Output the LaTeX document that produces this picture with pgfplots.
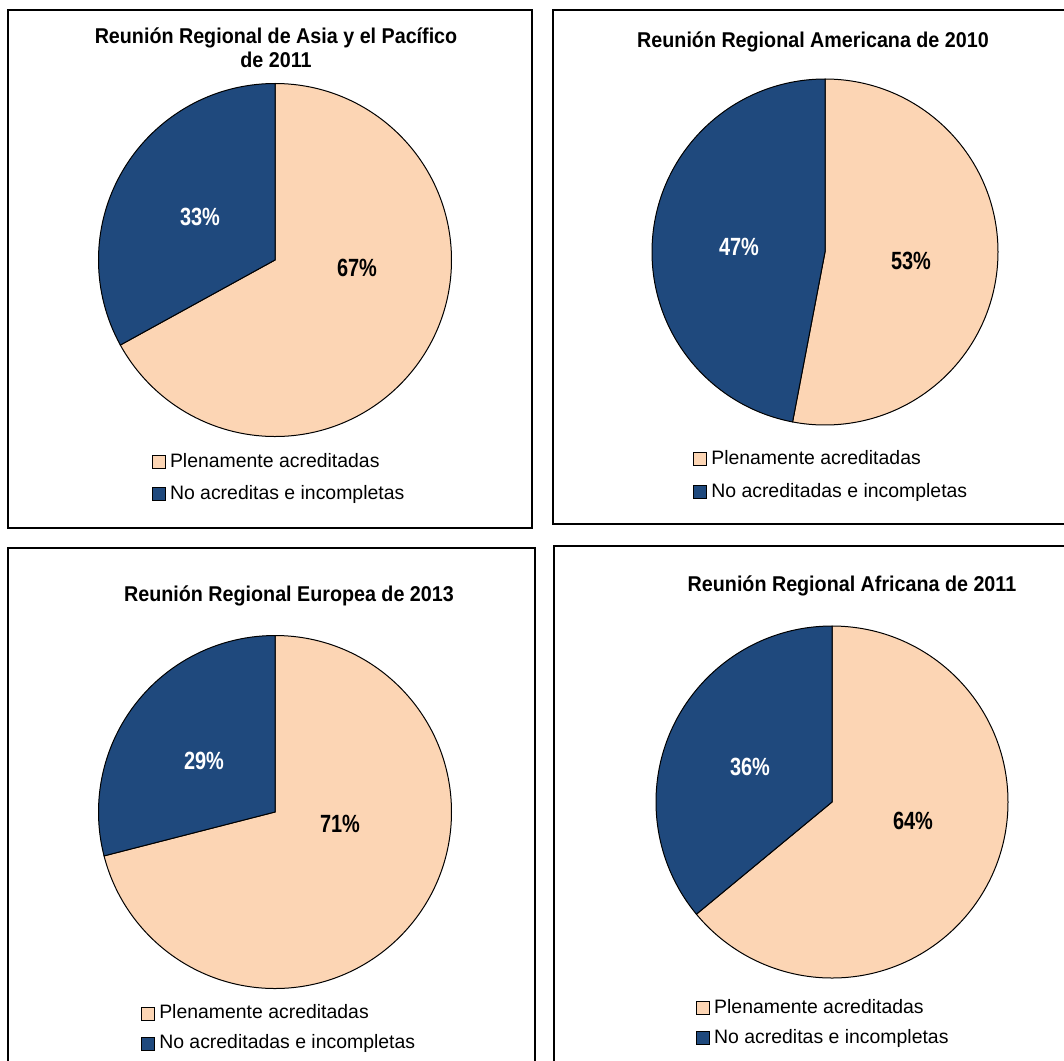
\documentclass[border=0pt]{standalone}
\usepackage{pgfplots}
\pgfplotsset{compat=1.18}
\usepackage{pgfplotstable}
\usepackage{fontspec}
\setmainfont{Liberation Sans}
\newfontfamily\lblfamily[FakeStretch=0.8]{Liberation Sans}
\newfontfamily\ttlfamily[FakeStretch=0.92]{Liberation Sans}
\definecolor{lightpie}{RGB}{252,213,180}
\definecolor{darkpie}{RGB}{31,73,125}

\pgfplotstableread{
id plena noacr
1 67 33
2 53 47
3 71 29
4 64 36
}\piedata

\newcommand\tfont{\ttlfamily\fontsize{21.5}{24}\selectfont\bfseries}
\newcommand\lfont{\lblfamily\fontsize{25}{28}\selectfont\bfseries}

\tikzset{slice/.style={draw=black, line width=1bp}}
\pgfplotsset{
  panel/.style={x=1bp, y=1bp, scale only axis, clip=false,
    xtick=\empty, ytick=\empty,
    axis line style={line width=1.2bp, black},
    anchor=south west,
    legend image code/.code={\draw[draw=black,line width=0.8bp,##1] (0bp,-6.5bp) rectangle (13bp,6.5bp);},
    legend style={draw=none, fill=none, inner sep=0pt, column sep=4.5bp,
      anchor=north west, font=\fontsize{19.5}{22}\selectfont,
      nodes={inner sep=0pt, text height=14.5bp, text depth=4.5bp}},
    legend cell align=left},
}

\begin{document}
\begin{tikzpicture}
\useasboundingbox (0,0) rectangle (1064bp,-1061bp);
% values and angles
\pgfplotstablegetelem{0}{plena}\of\piedata \edef\pA{\pgfplotsretval}
\pgfplotstablegetelem{0}{noacr}\of\piedata \edef\qA{\pgfplotsretval}
\pgfplotstablegetelem{1}{plena}\of\piedata \edef\pB{\pgfplotsretval}
\pgfplotstablegetelem{1}{noacr}\of\piedata \edef\qB{\pgfplotsretval}
\pgfplotstablegetelem{2}{plena}\of\piedata \edef\pC{\pgfplotsretval}
\pgfplotstablegetelem{2}{noacr}\of\piedata \edef\qC{\pgfplotsretval}
\pgfplotstablegetelem{3}{plena}\of\piedata \edef\pD{\pgfplotsretval}
\pgfplotstablegetelem{3}{noacr}\of\piedata \edef\qD{\pgfplotsretval}
\pgfmathsetmacro\aA{90-3.6*\pA}\pgfmathsetmacro\bA{90+3.6*\qA}
\pgfmathsetmacro\aB{90-3.6*\pB}\pgfmathsetmacro\bB{90+3.6*\qB}
\pgfmathsetmacro\aC{90-3.6*\pC}\pgfmathsetmacro\bC{90+3.6*\qC}
\pgfmathsetmacro\aD{90-3.6*\pD}\pgfmathsetmacro\bD{90+3.6*\qD}

% Panel 1
\begin{axis}[panel, at={(8bp,-528bp)}, xmin=8, xmax=532, ymin=-528, ymax=-10,
  legend style={at={(0.2739,0.1458)}, row sep=13bp}]
\addlegendimage{fill=lightpie}\addlegendentry{Plenamente acreditadas}
\addlegendimage{fill=darkpie}\addlegendentry{No acreditas e incompletas}
\fill[lightpie, slice] (axis cs:275,-260) -- +(90:176.5bp) arc[start angle=90, end angle=\aA, radius=176.5bp] -- cycle;
\fill[darkpie, slice] (axis cs:275,-260) -- +(90:176.5bp) arc[start angle=90, end angle=\bA, radius=176.5bp] -- cycle;
\node[font=\lfont, white] at (axis cs:200,-217) {\qA\%};
\node[font=\lfont, black] at (axis cs:357,-268) {\pA\%};
\node[font=\tfont, align=center, inner sep=0pt] at (axis cs:276,-48) {Reunión Regional de Asia y el Pacífico\\de 2011};
\end{axis}

% Panel 2
\begin{axis}[panel, at={(553bp,-524bp)}, xmin=553, xmax=1070, ymin=-524, ymax=-10,
  legend style={at={(0.2704,0.1449)}, row sep=14bp}]
\addlegendimage{fill=lightpie}\addlegendentry{Plenamente acreditadas}
\addlegendimage{fill=darkpie}\addlegendentry{No acreditadas e incompletas}
\fill[lightpie, slice] (axis cs:825,-252) -- +(90:173bp) arc[start angle=90, end angle=\aB, radius=173bp] -- cycle;
\fill[darkpie, slice] (axis cs:825,-252) -- +(90:173bp) arc[start angle=90, end angle=\bB, radius=173bp] -- cycle;
\node[font=\lfont, white] at (axis cs:739,-247) {\qB\%};
\node[font=\lfont, black] at (axis cs:911,-261) {\pB\%};
\node[font=\tfont, inner sep=0pt] at (axis cs:813,-42) {Reunión Regional Americana de 2010};
\end{axis}

% Panel 3
\begin{axis}[panel, at={(8bp,-1068bp)}, xmin=8, xmax=535, ymin=-1068, ymax=-548,
  legend style={at={(0.2519,0.1233)}, row sep=11bp}]
\addlegendimage{fill=lightpie}\addlegendentry{Plenamente acreditadas}
\addlegendimage{fill=darkpie}\addlegendentry{No acreditadas e incompletas}
\fill[lightpie, slice] (axis cs:275,-812) -- +(90:176.5bp) arc[start angle=90, end angle=\aC, radius=176.5bp] -- cycle;
\fill[darkpie, slice] (axis cs:275,-812) -- +(90:176.5bp) arc[start angle=90, end angle=\bC, radius=176.5bp] -- cycle;
\node[font=\lfont, white] at (axis cs:204,-761) {\qC\%};
\node[font=\lfont, black] at (axis cs:340,-824) {\pC\%};
\node[font=\tfont, inner sep=0pt] at (axis cs:289,-596) {Reunión Regional Europea de 2013};
\end{axis}

% Panel 4
\begin{axis}[panel, at={(554bp,-1068bp)}, xmin=554, xmax=1070, ymin=-1068, ymax=-546,
  legend style={at={(0.2746,0.1329)}, row sep=11bp}]
\addlegendimage{fill=lightpie}\addlegendentry{Plenamente acreditadas}
\addlegendimage{fill=darkpie}\addlegendentry{No acreditas e incompletas}
\fill[lightpie, slice] (axis cs:832,-802) -- +(90:176bp) arc[start angle=90, end angle=\aD, radius=176bp] -- cycle;
\fill[darkpie, slice] (axis cs:832,-802) -- +(90:176bp) arc[start angle=90, end angle=\bD, radius=176bp] -- cycle;
\node[font=\lfont, white] at (axis cs:750,-767) {\qD\%};
\node[font=\lfont, black] at (axis cs:913,-821) {\pD\%};
\node[font=\tfont, inner sep=0pt] at (axis cs:852,-586) {Reunión Regional Africana de 2011};
\end{axis}
\end{tikzpicture}
\end{document}
